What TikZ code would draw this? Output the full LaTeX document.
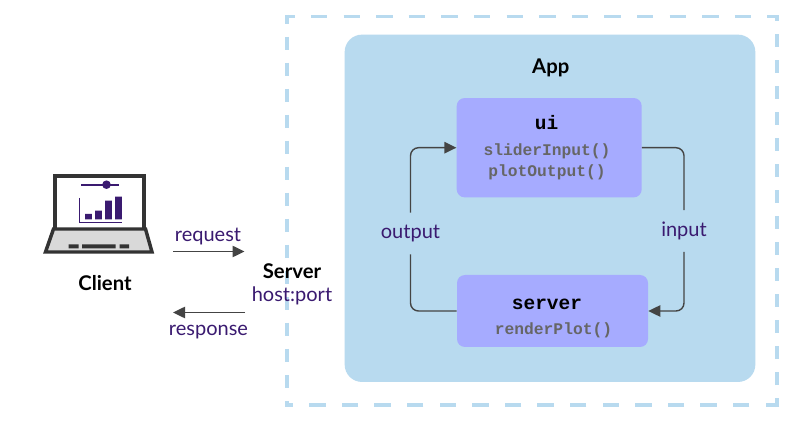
\documentclass[tikz,border=0pt]{standalone}
\usepackage{fontspec}
\setmainfont{Lato}
\setmonofont{Liberation Mono}
\usetikzlibrary{arrows.meta,calc}
\definecolor{appblue}{HTML}{B8DAEF}
\definecolor{dashblue}{HTML}{B8DAEF}
\definecolor{boxviolet}{HTML}{A6ABFF}
\definecolor{ink}{HTML}{3A1A70}
\definecolor{linegrey}{HTML}{444444}
\definecolor{codegrey}{HTML}{666666}
\definecolor{laptopdark}{HTML}{333333}
\definecolor{laptopkey}{HTML}{D9D9D9}
\tikzset{
  x=0.75pt,y=-0.75pt,
  txt/.style={inner sep=0pt,font=\fontsize{15pt}{17pt}\selectfont,text=ink},
  head/.style={inner sep=0pt,font=\fontsize{15.2pt}{17pt}\selectfont\bfseries,text=black},
  codehead/.style={inner sep=0pt,font=\fontsize{14.6pt}{17pt}\selectfont\ttfamily\bfseries,text=black},
  code/.style={inner sep=0pt,font=\fontsize{12.2pt}{15pt}\selectfont\ttfamily\bfseries,text=codegrey},
  panel/.style={draw=none,inner sep=0pt,rectangle},
  conn/.style={draw=linegrey,line width=1.05pt,rounded corners=6pt},
  tip/.style={-{Triangle[length=9pt,width=8.5pt]}},
  gap/.style={txt,minimum height=30.75pt},
  edgeh/.style={draw=dashblue,line width=2.6pt,dash pattern=on 12.3pt off 12.15pt},
  edgev/.style={draw=dashblue,line width=3pt,dash pattern=on 9.75pt off 9.75pt},
}
\begin{document}
\begin{tikzpicture}
\useasboundingbox (0,0) rectangle (797,431);
\fill[white] (0,0) rectangle (797,431);
% dashed frame
\draw[edgeh,dash phase=4.9pt] (285,16.7) -- (779,16.7);
\draw[edgeh,dash phase=2.2pt] (779,405) -- (285,405);
\draw[edgev,dash phase=3pt] (287.3,15) -- (287.3,407);
\draw[edgev,dash phase=3pt] (777,407) -- (777,15);
% app panel
\node[panel,fill=appblue,rounded corners=13pt,minimum width=308pt,minimum height=260.5pt] (app) at (550,208.3) {};
\node[head] (apptitle) at (550.7,67.5) {App};
\node[panel,fill=boxviolet,rounded corners=6pt,minimum width=138.75pt,minimum height=74.5pt] (ui) at (549.2,147.7) {};
\node[panel,fill=boxviolet,rounded corners=6pt,minimum width=143.25pt,minimum height=54pt] (server) at (552.5,311) {};
\node[codehead] (uititle) at (546.5,122.5) {ui};
\node[code] (slider) at (547,151) {sliderInput()};
\node[code] (plot) at (547,172) {plotOutput()};
\node[codehead] (servertitle) at (547,304) {server};
\node[code] (render) at (553.5,330) {renderPlot()};
% cycle labels
\node[gap] (output) at (410.5,233.5) {output};
\node[gap] (input) at (684,231) {input};
\coordinate (outcornerlow) at (output.south|-server.west);
\coordinate (outcornerhigh) at (output.north|-ui.west);
\coordinate (incornerhigh) at (input.north|-ui.east);
\coordinate (incornerlow) at (input.south|-server.east);
\draw[conn] (server.west) -- (outcornerlow) -- (output.south);
\draw[conn,tip] (output.north) -- (outcornerhigh) -- (ui.west);
\draw[conn] (ui.east) -- (incornerhigh) -- (input.north);
\draw[conn,tip] (input.south) -- (incornerlow) -- (server.east);
% client / server
\node[head] (clientlabel) at (105,283) {Client};
\node[head] (serverlabel) at (292,271) {Server};
\node[txt] (hostport) at (292,295.5) {host:port};
\node[txt] (request) at (208,236.5) {request};
\node[txt] (response) at (208.5,332.5) {response};
\coordinate (reqa) at (173,251.5);
\coordinate (reqb) at (244.5,251.5);
\coordinate (resa) at (245,312.5);
\coordinate (resb) at (173,312.5);
\draw[conn,tip] (reqa) -- (reqb);
\draw[conn,tip] (resa) -- (resb);
% laptop
\draw[laptopdark,line width=2.7pt,fill=white] (54.8,228) -- (54.8,175.8) -- (144.2,175.8) -- (144.2,228);
\draw[laptopdark,line width=2.6pt,line join=miter,fill=laptopkey] (53.5,229) -- (145.5,229) -- (152,252) -- (45.5,252) -- cycle;
\fill[laptopdark] (68.5,244.5) rectangle (78.5,248.3) (82,244.5) rectangle (115.5,248.3) (119.5,244.5) rectangle (129,248.3);
\draw[ink,line width=1.7pt] (81,184.7) -- (119,184.7);
\fill[ink] (106.5,184.7) circle (4.3);
\draw[ink,line width=1.3pt] (79.5,198) -- (79.5,222.5) -- (121.8,222.5);
\fill[ink] (85,214) rectangle (91.8,219.3) (95,210.7) rectangle (101.8,219.3) (105,200.7) rectangle (111.8,219.3) (115,196.7) rectangle (121.8,219.3);
\end{tikzpicture}
\end{document}
